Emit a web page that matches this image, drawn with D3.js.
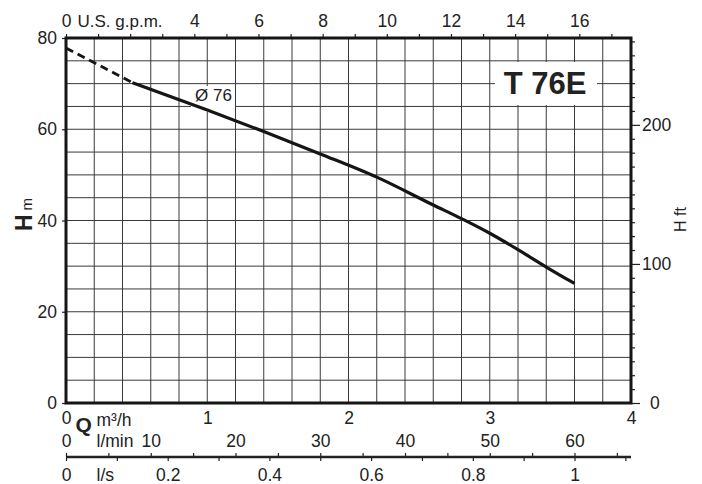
<!DOCTYPE html>
<html>
<head>
<meta charset="utf-8">
<script src="https://cdn.jsdelivr.net/npm/d3@7"></script>
<style>
  body { margin: 0; background: #fff; }
  text { font-family: "Liberation Sans", Arial, sans-serif; fill: #222; }
</style>
</head>
<body>
<svg width="702" height="484"></svg>
<script>
// pump curve, Q in m3/h, H in m
const dashedQ = [0, 0.2, 0.47];
const dashedH = [77.8, 74.6, 70.2];
const solidQ = [0.47, 1.0, 1.4, 1.8, 2.2, 2.6, 2.8, 3.0, 3.2, 3.4, 3.6];
const solidH = [70.2, 64.2, 59.5, 54.6, 49.5, 43.4, 40.4, 37.2, 33.6, 29.8, 26.2];

const hTicks = [0, 20, 40, 60, 80];
const qTicks = [0, 1, 2, 3, 4];
const gpmTicks = d3.range(0, 18);
const gpmLabels = [0, 4, 6, 8, 10, 12, 14, 16];
const ftTicks = d3.range(0, 261, 10);
const ftLabels = [0, 100, 200];
const lminTicks = d3.range(0, 66, 5);
const lminLabels = [0, 10, 20, 30, 40, 50, 60];
const lsTicks = [0, 0.1, 0.2, 0.3, 0.4, 0.5, 0.6, 0.7, 0.8, 0.9, 1.0, 1.1];
const lsLabels = [0, 0.2, 0.4, 0.6, 0.8, 1];

const svg = d3.select('svg');
const pL = 66, pR = 631, pT = 38, pB = 403;

const x = d3.scaleLinear().domain([0, 4]).range([pL, pR]);
const y = d3.scaleLinear().domain([0, 80]).range([pB, pT]);
const xg = d3.scaleLinear().domain([0, 4 / 0.227125]).range([pL, pR]);
const yf = d3.scaleLinear().domain([0, 80 / 0.3048]).range([pB, pT]);
const xl = d3.scaleLinear().domain([0, 4000 / 60]).range([pL, pR]);
const xs = d3.scaleLinear().domain([0, 4 / 3.6]).range([pL, pR]);

// grid
const grid = svg.append('g').attr('stroke', '#3a3a3a').attr('stroke-width', 1);
grid.selectAll('.gx')
  .data(d3.range(1, 20).map(i => i * 0.2))
  .join('line')
    .attr('x1', d => x(d)).attr('x2', d => x(d))
    .attr('y1', pT).attr('y2', pB);
grid.selectAll('.gy')
  .data(d3.range(1, 16).map(i => i * 5))
  .join('line')
    .attr('x1', pL).attr('x2', pR)
    .attr('y1', d => y(d)).attr('y2', d => y(d));

// white boxes behind labels
svg.append('rect').attr('x', 495).attr('y', 62).attr('width', 102).attr('height', 43).attr('fill', '#fff');
svg.append('rect').attr('x', 191).attr('y', 86).attr('width', 44).attr('height', 26).attr('fill', '#fff');

function styleAxis(g, size) {
  g.select('.domain').remove();
  g.selectAll('.tick line').attr('stroke', '#222').attr('stroke-width', 1.2);
  g.selectAll('text').attr('font-size', size).attr('fill', '#222')
    .attr('font-family', '"Liberation Sans", Arial, sans-serif');
}

// left H m
svg.append('g').attr('transform', `translate(${pL},0)`)
  .call(d3.axisLeft(y).tickValues(hTicks).tickSize(4).tickPadding(5))
  .call(g => styleAxis(g, 17.5));

// top gpm
svg.append('g').attr('transform', `translate(0,${pT})`)
  .call(d3.axisTop(xg).tickValues(gpmTicks).tickSize(4).tickPadding(7.5)
    .tickFormat(d => gpmLabels.includes(d) ? d : ''))
  .call(g => styleAxis(g, 17.5));
svg.append('text').attr('x', 77.5).attr('y', 26.5).attr('font-size', 17).text('U.S. g.p.m.');

// right ft
svg.append('g').attr('transform', `translate(${pR},0)`)
  .call(d3.axisRight(yf).tickValues(ftTicks).tickSize(4).tickPadding(7)
    .tickFormat(d => ftLabels.includes(d) ? d : ''))
  .call(g => styleAxis(g, 17.5))
  .call(g => g.selectAll('.tick line').attr('x2', d => ftLabels.includes(d) ? 9 : 4))
  .call(g => g.selectAll('.tick text').filter(d => d === 0).attr('x', 19));

// bottom m3/h labels
svg.append('g').attr('transform', `translate(0,${pB})`)
  .call(d3.axisBottom(x).tickValues(qTicks).tickSize(0).tickPadding(0).tickFormat(d3.format('d')))
  .call(g => styleAxis(g, 17.5))
  .call(g => g.selectAll('text').attr('y', 20.5).attr('dy', null));

// l/min (ticks above line) and l/s (ticks below)
const qy = 457;
svg.append('g').attr('transform', `translate(0,${qy})`)
  .call(d3.axisTop(xl).tickValues(lminTicks).tickSize(4).tickPadding(6.5)
    .tickFormat(d => lminLabels.includes(d) ? d : ''))
  .call(g => styleAxis(g, 17.5));
svg.append('g').attr('transform', `translate(0,${qy})`)
  .call(d3.axisBottom(xs).tickValues(lsTicks).tickSize(4).tickPadding(0)
    .tickFormat(d => lsLabels.includes(d) ? d3.format('~g')(d) : ''))
  .call(g => styleAxis(g, 17.5))
  .call(g => g.selectAll('text').attr('y', 24).attr('dy', null));
svg.append('line').attr('x1', pL).attr('x2', pR).attr('y1', qy).attr('y2', qy)
  .attr('stroke', '#222').attr('stroke-width', 2.5);

// unit labels
svg.append('text').attr('x', 75.5).attr('y', 432).attr('font-size', 21).attr('font-weight', 'bold').text('Q');
svg.append('text').attr('x', 96.5).attr('y', 426).attr('font-size', 17.5).text('m³/h');
svg.append('text').attr('x', 96.5).attr('y', 447).attr('font-size', 17.5).text('l/min');
svg.append('text').attr('x', 96.5).attr('y', 481).attr('font-size', 17.5).text('l/s');

const hm = svg.append('text').attr('transform', 'translate(32,231) rotate(-90)');
hm.append('tspan').attr('font-size', 23).attr('font-weight', 'bold').text('H');
hm.append('tspan').attr('font-size', 15).attr('dx', 4).text('m');

svg.append('text').attr('transform', 'translate(686,232) rotate(-90)')
  .attr('font-size', 16).text('H ft');

// frame
svg.append('rect').attr('x', pL).attr('y', pT)
  .attr('width', pR - pL).attr('height', pB - pT)
  .attr('fill', 'none').attr('stroke', '#151515').attr('stroke-width', 3);

// curve
const line = d3.line().x(d => x(d[0])).y(d => y(d[1])).curve(d3.curveMonotoneX);
svg.append('path')
  .attr('d', line(d3.zip(dashedQ, dashedH)))
  .attr('fill', 'none').attr('stroke', '#151515').attr('stroke-width', 2.8)
  .attr('stroke-dasharray', '8,5');
svg.append('path')
  .attr('d', line(d3.zip(solidQ, solidH)))
  .attr('fill', 'none').attr('stroke', '#151515').attr('stroke-width', 3.2);

// labels
svg.append('text').attr('x', 195).attr('y', 101).attr('font-size', 17).text('Ø 76');
svg.append('text').attr('x', 545).attr('y', 93.5).attr('text-anchor', 'middle')
  .attr('font-size', 31).attr('font-weight', 'bold').attr('fill', '#1a1a1a').text('T 76E');
</script>
</body>
</html>
